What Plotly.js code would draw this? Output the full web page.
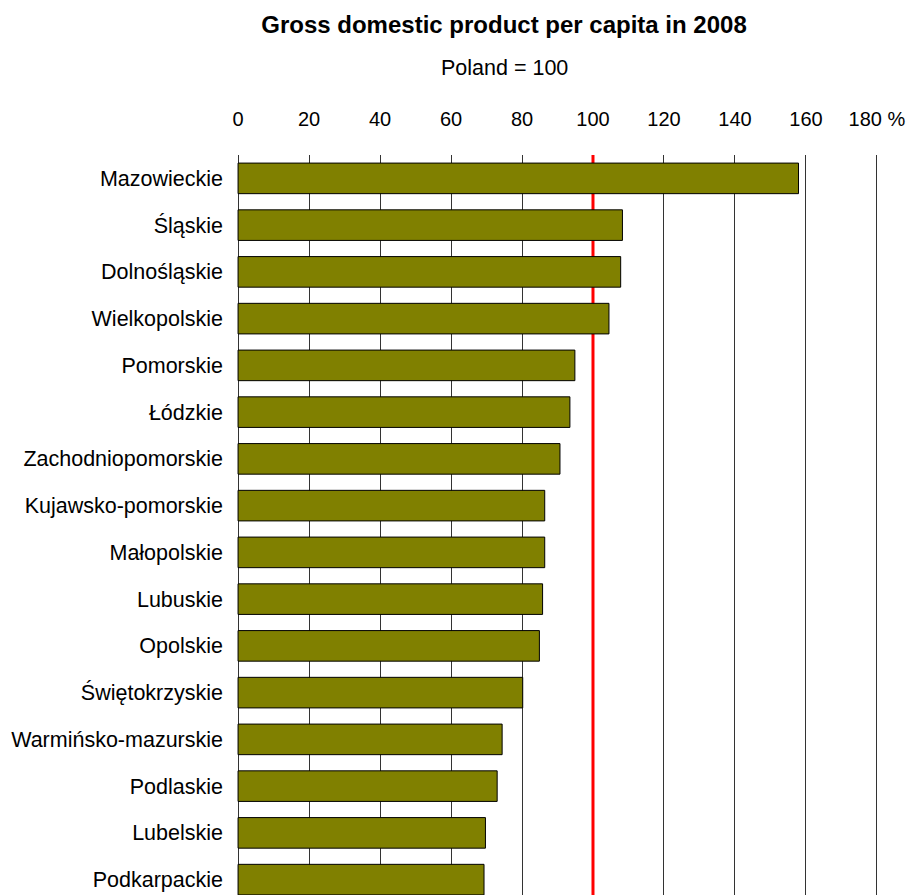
<!DOCTYPE html>
<html>
<head>
<meta charset="utf-8">
<script src="https://cdn.plot.ly/plotly-3.0.1.min.js"></script>
<style>
html, body { margin: 0; padding: 0; overflow: hidden; background: #fff; }
#chart { width: 916px; height: 903px; }
</style>
</head>
<body>
<div id="chart"></div>
<script>
var regions = ["Mazowieckie", "Śląskie", "Dolnośląskie", "Wielkopolskie", "Pomorskie", "Łódzkie",
  "Zachodniopomorskie", "Kujawsko-pomorskie", "Małopolskie", "Lubuskie", "Opolskie",
  "Świętokrzyskie", "Warmińsko-mazurskie", "Podlaskie", "Lubelskie", "Podkarpackie"];
var gdpIndex = [157.9, 108.3, 107.8, 104.5, 94.9, 93.5, 90.7, 86.4, 86.4, 85.8, 84.9, 80.2, 74.4, 73.0, 69.7, 69.3];
var tickValues = [0, 20, 40, 60, 80, 100, 120, 140, 160, 180];
var tickLabels = ["0", "20", "40", "60", "80", "100", "120", "140", "160", "180 %"];
var polandLevel = 100;
var chartTitle = "Gross domestic product per capita in 2008";
var chartSubtitle = "Poland = 100";

var FONT = "Liberation Sans, Arial, sans-serif";
var xRange = [-0.3, 180.3];

// gridlines everywhere except where the red reference line sits
var gridValues = tickValues.filter(function (v) { return v !== polandLevel; });

var trace = {
  type: "bar",
  orientation: "h",
  y: regions,
  x: gdpIndex,
  width: 0.654,
  marker: { color: "#808000", line: { color: "#000000", width: 1 } },
  hoverinfo: "x+y"
};

// invisible helper trace so the labelled top axis is drawn
var labelTrace = {
  type: "scatter",
  mode: "markers",
  x: [polandLevel],
  y: [regions[0]],
  xaxis: "x2",
  yaxis: "y",
  marker: { opacity: 0 },
  hoverinfo: "skip",
  showlegend: false
};

var layout = {
  width: 916,
  height: 903,
  margin: { l: 237, r: 38, t: 155, b: 0, pad: 0 },
  paper_bgcolor: "#ffffff",
  plot_bgcolor: "#ffffff",
  font: { family: FONT, color: "#000000", size: 20 },
  showlegend: false,
  bargap: 0.346,
  title: {
    text: "<b>" + chartTitle + "</b>",
    font: { family: FONT, size: 24, color: "#000000" },
    x: 504 / 916, xref: "container", xanchor: "center",
    y: 1 - 25 / 903, yref: "container", yanchor: "middle"
  },
  xaxis: {
    side: "top",
    range: xRange,
    tickvals: gridValues,
    showticklabels: false,
    showgrid: true,
    gridcolor: "#333333",
    gridwidth: 1,
    zeroline: true,
    zerolinecolor: "#333333",
    zerolinewidth: 1,
    showline: false,
    ticks: "",
    fixedrange: true
  },
  xaxis2: {
    overlaying: "x",
    side: "top",
    range: xRange,
    tickvals: tickValues,
    ticktext: tickLabels,
    showgrid: false,
    zeroline: false,
    showline: false,
    ticks: "",
    ticklabelstandoff: 24,
    tickfont: { family: FONT, size: 20, color: "#000000" },
    fixedrange: true
  },
  yaxis: {
    type: "category",
    categoryorder: "array",
    categoryarray: regions,
    range: [15.5, -0.5],
    showgrid: false,
    zeroline: false,
    showline: false,
    ticks: "",
    ticklabelstandoff: 13,
    tickfont: { family: FONT, size: 21.5, color: "#000000" },
    fixedrange: true
  },
  shapes: [{
    type: "line",
    xref: "x", yref: "paper",
    x0: polandLevel, x1: polandLevel, y0: 0, y1: 1,
    line: { color: "#ff0000", width: 3 },
    layer: "below"
  }],
  annotations: [{
    text: chartSubtitle,
    xref: "paper", yref: "paper",
    x: (504 - 237) / 641, y: 1 + (155 - 68) / 748,
    xanchor: "center", yanchor: "middle",
    showarrow: false,
    font: { family: FONT, size: 21.5, color: "#000000" }
  }]
};

Plotly.newPlot("chart", [trace, labelTrace], layout, { displayModeBar: false, staticPlot: true });
</script>
</body>
</html>
